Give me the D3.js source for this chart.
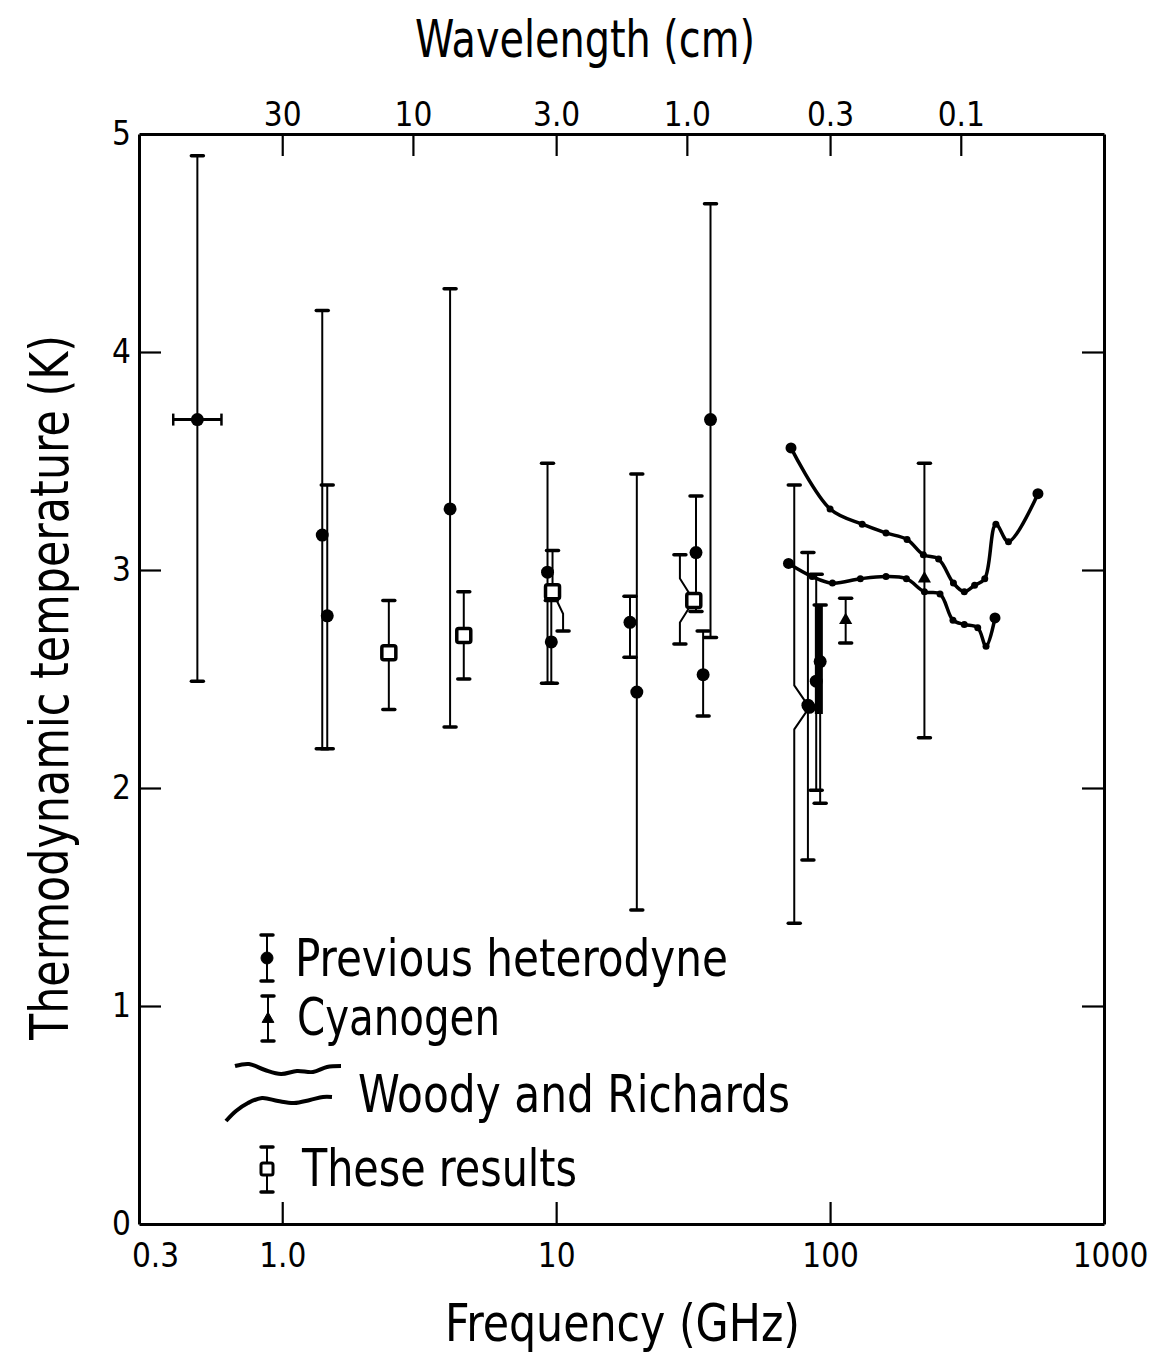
<!DOCTYPE html>
<html>
<head>
<meta charset="utf-8">
<script src="https://cdn.jsdelivr.net/npm/d3@7"></script>
<style>
    body { margin: 0; background: #fff; }
    text { font-family: "DejaVu Sans Condensed", "Liberation Sans", sans-serif; fill: #000; }
</style>
</head>
<body>
<svg id="chart" width="1158" height="1357"></svg>
<script>

// axis ticks
const freqTicks = [0.3, 1, 10, 100, 1000]
const freqLabels = ['0.3', '1.0', '10', '100', '1000']
const waveTicks = [30, 10, 3, 1, 0.3, 0.1]
const waveLabels = ['30', '10', '3.0', '1.0', '0.3', '0.1']
const tempTicks = [0, 1, 2, 3, 4, 5]

// previous heterodyne measurements (GHz, K)
const hetFreq = [0.49, 1.40, 1.46, 4.1, 9.3, 9.6, 18.6, 19.7, 32.4, 34.4, 36.6, 84, 83, 89, 92]
const hetTemp = [3.69, 3.16, 2.79, 3.28, 2.99, 2.67, 2.76, 2.44, 3.08, 2.52, 3.69, 2.37, 2.38, 2.49, 2.58]
const hetLow = [2.49, 2.18, 2.18, 2.28, 2.48, 2.48, 2.60, 1.44, 2.81, 2.33, 2.69, 1.38, 1.67, 1.99, 1.93]
const hetHigh = [4.90, 4.19, 3.39, 4.29, 3.49, 2.86, 2.88, 3.44, 3.34, 2.72, 4.68, 3.39, 3.08, 2.98, 2.84]
// whiskers displaced to another frequency to avoid overlap
const hetLowAt = [null, null, null, null, null, null, null, null, null, null, null, 74, null, null, null]
const hetHighAt = [null, null, null, null, null, null, null, null, null, null, null, 74, null, null, null]
// frequency error (only the 408 MHz point)
const hetFreqLow = [0.40]
const hetFreqHigh = [0.60]

// crowded range near 90 GHz drawn as a solid band
const bandFreq = [91]
const bandLow = [2.34]
const bandHigh = [2.84]

// cyanogen
const cnFreq = [114, 221]
const cnTemp = [2.77, 2.96]
const cnLow = [2.665, 2.23]
const cnHigh = [2.87, 3.49]

// these results
const resFreq = [2.45, 4.6, 9.7, 31.8]
const resTemp = [2.62, 2.70, 2.90, 2.86]
const resLow = [2.36, 2.50, 2.72, 2.66]
const resHigh = [2.86, 2.90, 3.09, 3.07]
const resLowAt = [null, null, 10.6, 28.3]
const resHighAt = [null, null, null, 28.3]

// Woody and Richards
const wrUpperFreq = [72, 100, 131, 160, 191, 219, 249, 282, 309, 337, 367, 403, 448, 574]
const wrUpperTemp = [3.56, 3.28, 3.21, 3.17, 3.14, 3.07, 3.05, 2.94, 2.90, 2.93, 2.96, 3.21, 3.13, 3.35]
const wrLowerFreq = [70.5, 86, 102, 129, 160, 190, 221, 252, 281, 309, 346, 371, 400]
const wrLowerTemp = [3.03, 2.97, 2.94, 2.96, 2.97, 2.96, 2.90, 2.89, 2.77, 2.75, 2.735, 2.65, 2.78]


const svg = d3.select('#chart')
const plotLeft = 139, plotRight = 1104, plotTop = 134, plotBottom = 1224

const x = d3.scaleLog().domain([0.3, 1000]).range([plotLeft, plotRight])
const y = d3.scaleLinear().domain([0, 5]).range([plotBottom, plotTop])
// wavelength (cm) = 30 / frequency (GHz)
const xWave = d3.scaleLog().domain([30 / 0.3, 30 / 1000]).range([plotLeft, plotRight])

const tickLen = 22, capHalf = 6, bendPx = 22

const styleAxis = (g) => {
    g.select('.domain').attr('stroke-width', 3)
    g.selectAll('.tick line').attr('stroke-width', 2.2)
    g.selectAll('.tick text').attr('font-size', 33).attr('fill', '#000')
}

// axes
svg.append('g')
    .attr('transform', `translate(0,${plotBottom})`)
    .call(d3.axisBottom(x).tickValues(freqTicks).tickSizeInner(-tickLen).tickSizeOuter(0).tickPadding(12)
        .tickFormat((d, i) => freqLabels[i]))
    .call(styleAxis)
    .call(g => g.selectAll('.tick text').attr('dy', '0.95em')
        .attr('dx', (d, i) => i === 0 ? 16 : (i === freqTicks.length - 1 ? 6 : 0)))

svg.append('g')
    .attr('transform', `translate(0,${plotTop})`)
    .call(d3.axisTop(xWave).tickValues(waveTicks).tickSizeInner(-tickLen).tickSizeOuter(0).tickPadding(8)
        .tickFormat((d, i) => waveLabels[i]))
    .call(styleAxis)

svg.append('g')
    .attr('transform', `translate(${plotLeft},0)`)
    .call(d3.axisLeft(y).tickValues(tempTicks).tickSizeInner(-tickLen).tickSizeOuter(0).tickPadding(8)
        .tickFormat(d3.format('d')))
    .call(styleAxis)
    .call(g => g.selectAll('.tick').filter(d => d === 0 || d === 5).select('line').remove())

svg.append('g')
    .attr('transform', `translate(${plotRight},0)`)
    .call(d3.axisRight(y).tickValues(tempTicks.slice(1, 5)).tickSizeInner(-tickLen).tickSizeOuter(0)
        .tickFormat(''))
    .call(styleAxis)

// axis titles (narrow lettering: squeeze to the original widths)
const label = (sel, txt, size, len) => sel.append('text')
    .attr('font-size', size)
    .attr('textLength', len).attr('lengthAdjust', 'spacingAndGlyphs')
    .text(txt)

label(svg, 'Wavelength (cm)', 52, 340)
    .attr('x', 415).attr('y', 57)

label(svg, 'Frequency (GHz)', 52, 355)
    .attr('x', 445).attr('y', 1341)

label(svg, 'Thermodynamic temperature (K)', 54, 705)
    .attr('transform', 'translate(68,1040) rotate(-90)')


const plot = svg.append('g')

const whisker = (nu, t, end, at) => {
    let x0 = x(nu), y0 = y(t), y1 = y(end)
    if (at == null) return `M${x0},${y0}V${y1}`
    let dir = y1 > y0 ? 1 : -1
    return `M${x0},${y0}L${x(at)},${y0 + dir * bendPx}V${y1}`
}

const drawBars = (freq, temp, low, high, lowAt, highAt) => {
    let idx = d3.range(freq.length)
    let g = plot.append('g')
        .attr('stroke', '#000').attr('fill', 'none')

    g.selectAll('path.hi')
        .data(idx).enter().append('path')
        .attr('stroke-width', 2)
        .attr('d', i => whisker(freq[i], temp[i], high[i], highAt[i]))
    g.selectAll('path.lo')
        .data(idx).enter().append('path')
        .attr('stroke-width', 2)
        .attr('d', i => whisker(freq[i], temp[i], low[i], lowAt[i]))

    let caps = idx.flatMap(i => [[highAt[i] ?? freq[i], high[i]], [lowAt[i] ?? freq[i], low[i]]])
    g.selectAll('line.cap')
        .data(caps).enter().append('line')
        .attr('stroke-width', 3.5).attr('stroke-linecap', 'round')
        .attr('x1', d => x(d[0]) - capHalf).attr('x2', d => x(d[0]) + capHalf)
        .attr('y1', d => y(d[1])).attr('y2', d => y(d[1]))
    return idx
}

// heterodyne
let hetIdx = drawBars(hetFreq, hetTemp, hetLow, hetHigh, hetLowAt, hetHighAt)

plot.selectAll('line.band')
    .data(bandFreq).enter().append('line')
    .attr('stroke', '#000').attr('stroke-width', 8)
    .attr('x1', d => x(d)).attr('x2', d => x(d))
    .attr('y1', (d, i) => y(bandLow[i])).attr('y2', (d, i) => y(bandHigh[i]))

let fErr = plot.append('g').attr('stroke', '#000')
fErr.selectAll('line.h')
    .data(hetFreqLow).enter().append('line')
    .attr('stroke-width', 3)
    .attr('x1', d => x(d)).attr('x2', (d, i) => x(hetFreqHigh[i]))
    .attr('y1', (d, i) => y(hetTemp[i])).attr('y2', (d, i) => y(hetTemp[i]))
fErr.selectAll('line.cl')
    .data(hetFreqLow.concat(hetFreqHigh)).enter().append('line')
    .attr('stroke-width', 2.5)
    .attr('x1', d => x(d)).attr('x2', d => x(d))
    .attr('y1', y(hetTemp[0]) - 6).attr('y2', y(hetTemp[0]) + 6)

plot.selectAll('circle.het')
    .data(hetIdx).enter().append('circle')
    .attr('cx', i => x(hetFreq[i])).attr('cy', i => y(hetTemp[i]))
    .attr('r', 6.5).attr('fill', '#000')

// cyanogen
let cnIdx = drawBars(cnFreq, cnTemp, cnLow, cnHigh, cnFreq.map(_ => null), cnFreq.map(_ => null))
plot.selectAll('path.cn')
    .data(cnIdx).enter().append('path')
    .attr('transform', i => `translate(${x(cnFreq[i])},${y(cnTemp[i])})`)
    .attr('d', d3.symbol().type(d3.symbolTriangle).size(75))
    .attr('fill', '#000')

// Woody and Richards
const wrLine = d3.line()
    .x(d => x(d[0])).y(d => y(d[1]))
    .curve(d3.curveCatmullRom.alpha(0.5))

const drawWR = (freq, temp) => {
    let pts = freq.map((f, i) => [f, temp[i]])
    plot.append('path')
        .datum(pts)
        .attr('d', wrLine)
        .attr('fill', 'none').attr('stroke', '#000').attr('stroke-width', 3.5)
    plot.append('g').selectAll('circle')
        .data(pts).enter().append('circle')
        .attr('cx', d => x(d[0])).attr('cy', d => y(d[1]))
        .attr('r', (d, i) => i === 0 || i === pts.length - 1 ? 5.5 : 3.5)
        .attr('fill', '#000')
}
drawWR(wrUpperFreq, wrUpperTemp)
drawWR(wrLowerFreq, wrLowerTemp)

// these results
let resIdx = drawBars(resFreq, resTemp, resLow, resHigh, resLowAt, resHighAt)
plot.selectAll('rect.res')
    .data(resIdx).enter().append('rect')
    .attr('x', i => x(resFreq[i]) - 7).attr('y', i => y(resTemp[i]) - 7)
    .attr('width', 14).attr('height', 14).attr('rx', 2)
    .attr('fill', '#fff').attr('stroke', '#000').attr('stroke-width', 3.5)


// legend
const legend = svg.append('g')
const legendFont = 52

const glyph = (gx, yTop, yBot) => {
    let g = legend.append('g').attr('stroke', '#000')
    g.append('line').attr('stroke-width', 2)
        .attr('x1', gx).attr('x2', gx).attr('y1', yTop).attr('y2', yBot)
    g.selectAll('line.c').data([yTop, yBot]).enter().append('line')
        .attr('stroke-width', 3.5).attr('stroke-linecap', 'round')
        .attr('x1', gx - capHalf).attr('x2', gx + capHalf)
        .attr('y1', d => d).attr('y2', d => d)
    return g
}

glyph(267, 935, 981)
    .append('circle').attr('cx', 267).attr('cy', 958).attr('r', 6).attr('fill', '#000')
label(legend, 'Previous  heterodyne', legendFont, 433).attr('x', 295).attr('y', 976)

glyph(268, 996, 1041)
    .append('path').attr('transform', 'translate(268,1019)')
    .attr('d', d3.symbol().type(d3.symbolTriangle).size(60)).attr('fill', '#000')
label(legend, 'Cyanogen', legendFont, 203).attr('x', 297).attr('y', 1035)

// small wavy samples for the Woody and Richards curves
const wrGlyphUpper = [[0, 0], [14, -2], [30, 4], [46, 8], [62, 5], [78, 6], [92, 1], [106, 0]]
const wrGlyphLower = [[0, 18], [10, 8], [22, 0], [36, -5], [52, -2], [68, 0], [84, -3], [97, -6], [106, -6]]
const glyphLine = d3.line().curve(d3.curveCatmullRom.alpha(0.5))
legend.append('path')
    .attr('transform', 'translate(235,1066)')
    .attr('d', glyphLine(wrGlyphUpper))
    .attr('fill', 'none').attr('stroke', '#000').attr('stroke-width', 4)
legend.append('path')
    .attr('transform', 'translate(226,1103)')
    .attr('d', glyphLine(wrGlyphLower))
    .attr('fill', 'none').attr('stroke', '#000').attr('stroke-width', 4)
label(legend, 'Woody and Richards', legendFont, 432).attr('x', 358).attr('y', 1112)

glyph(267, 1147, 1192)
    .append('rect').attr('x', 261).attr('y', 1163).attr('width', 12).attr('height', 12).attr('rx', 2)
    .attr('fill', '#fff').attr('stroke-width', 3)
label(legend, 'These  results', legendFont, 275).attr('x', 302).attr('y', 1186)

</script>
</body>
</html>
